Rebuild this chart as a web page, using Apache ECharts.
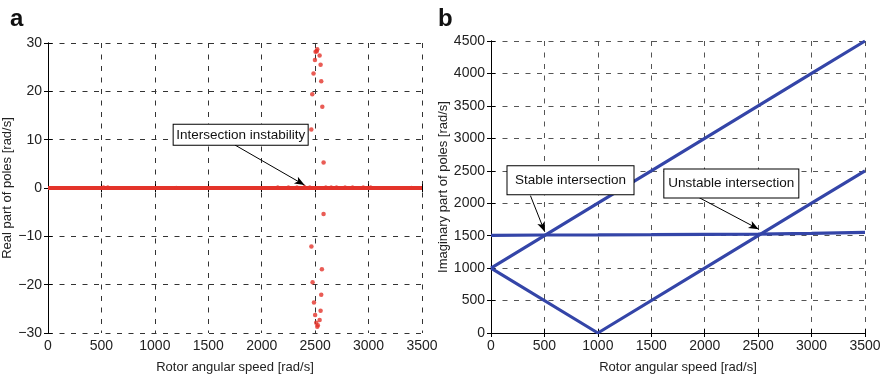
<!DOCTYPE html>
<html><head><meta charset="utf-8">
<script src="https://cdn.jsdelivr.net/npm/echarts@6/dist/echarts.min.js"></script>
<style>html,body{margin:0;padding:0;background:#fff}#c{width:884px;height:379px}</style>
</head><body><div id="c"></div>
<script>
// ---- Panel a data: real part of poles ----
var unstableSpeed = [2520,2515,2504,2542,2498,2551,2485,2557,2473,2567,2464,2579,2579,2465,2563,2476,2557,2489,2551,2500,2542,2510,2525,2520];
var unstableReal  = [28.7,28.3,28.2,27.4,26.5,25.5,23.7,22.1,19.4,16.8,12.1,5.3,-5.4,-12.1,-16.8,-19.5,-22.1,-23.7,-25.4,-26.3,-27.3,-27.9,-28.4,-28.7];
var nearZeroSpeed = [520,560,1200,2150,2250,2330,2400,2450,2600,2650,2700,2780,2850,2950,3020,3400];
var nearZeroReal  = [0.2,0.2,0.1,0.2,0.2,0.2,0.3,0.2,0.2,0.2,0.2,0.2,0.2,0.2,0.2,0.1];
var stableSpeed = [0,3500];
var stableReal  = [0,0];
// ---- Panel b data: imaginary part of poles ----
var speedB      = [0,500,1000,1500,2000,2500,3000,3500];
var branchUp    = [1000,1500,2000,2500,3000,3500,4000,4500];
var branchFlat  = [1505,1510,1512,1515,1520,1525,1535,1550];
var vSpeed      = [0,1000,2000,3000,3500];
var branchV     = [1000,0,1000,2000,2500];
// ---- Axis settings ----
var xTickValues = [0,500,1000,1500,2000,2500,3000,3500];
var realTicks   = [-30,-20,-10,0,10,20,30];
var imagTicks   = [0,500,1000,1500,2000,2500,3000,3500,4000,4500];

function zip(a,b){return a.map(function(v,i){return [v,b[i]];});}
var FONT = 'Liberation Sans';
var nameTxt = {color:'#222', fontFamily:FONT, fontSize:13};
var tickTxt = {color:'#222', fontFamily:FONT, fontSize:14};
function fmt(v){return String(v).replace('-','\u2212');}

function xAx(gi){
  return {type:'value', gridIndex:gi, min:0, max:3500, interval:500,
    name:'Rotor angular speed [rad/s]', nameLocation:'middle', nameGap:28,
    nameTextStyle:nameTxt,
    axisLine:{show:true,lineStyle:{color:'#000',width:1}},
    axisTick:{show:true,inside:true,length:4,lineStyle:{color:'#000'}},
    axisLabel:Object.assign({margin:6, formatter:fmt},tickTxt),
    splitLine:{show:true,lineStyle:{color:gi===0?'#333':'#555',type:[5,6.5],width:1}}};
}
function xTop(gi){
  return {type:'value', gridIndex:gi, position:'top', min:0, max:3500, interval:500,
    axisLine:{show:true,lineStyle:{color:'#000'}},
    axisTick:{show:true,inside:true,length:4,lineStyle:{color:'#000'}},
    axisLabel:{show:false}, splitLine:{show:false}};
}
function yAx(gi,min,max,iv,name,gap){
  return {type:'value', gridIndex:gi, min:min, max:max, interval:iv,
    name:name, nameLocation:'middle', nameGap:gap, nameTextStyle:nameTxt,
    axisLine:{show:true,lineStyle:{color:'#000',width:1}},
    axisTick:{show:true,inside:true,length:4,lineStyle:{color:'#000'}},
    axisLabel:Object.assign({margin:6, formatter:fmt},tickTxt),
    splitLine:{show:true,lineStyle:{color:gi===0?'#333':'#555',type:[5,6.5],width:1}}};
}
function yRight(gi,min,max,iv){
  return {type:'value', gridIndex:gi, position:'right', min:min, max:max, interval:iv,
    axisLine:{show:true,lineStyle:{color:'#000'}},
    axisTick:{show:true,inside:true,length:4,lineStyle:{color:'#000'}},
    axisLabel:{show:false}, splitLine:{show:false}};
}
function box(name,coord,size){
  return {name:name, coord:coord, symbol:'circle', symbolSize:0,
    itemStyle:{color:'rgba(0,0,0,0)'},
    label:{show:true,position:'inside',formatter:name,color:'#111',fontFamily:FONT,fontSize:13.5,
      width:size[0], height:size[1], lineHeight:size[1], align:'center', verticalAlign:'middle',
      padding:0, backgroundColor:'#fff', borderColor:'#000', borderWidth:1}};
}
var arrowStyle = {symbol:['none','arrow'], symbolSize:[6,10], silent:true,
  label:{show:false}, lineStyle:{color:'#000',width:1,type:'solid'}};

var RED = '#e3332a', BLUE = '#3445a8';
var chart = echarts.init(document.getElementById('c'), null, {renderer:'canvas'});
chart.setOption({
  animation:false,
  backgroundColor:'#fff',
  title:[
    {text:'a', left:5, top:2, textStyle:{fontFamily:FONT,fontWeight:'bold',fontSize:24,color:'#111'}},
    {text:'b', left:433, top:2, textStyle:{fontFamily:FONT,fontWeight:'bold',fontSize:24,color:'#111'}}
  ],
  grid:[
    {left:48, right:462, top:43, bottom:44, show:false},
    {left:491, right:19, top:41, bottom:44, show:false}
  ],
  xAxis:[xAx(0), xAx(1), xTop(0), xTop(1)],
  yAxis:[yAx(0,-30,30,10,'Real part of poles [rad/s]',24),
         yAx(1,0,4500,500,'Imaginary part of poles [rad/s]',40),
         yRight(0,-30,30,10), yRight(1,0,4500,500)],
  series:[
    {type:'line', xAxisIndex:0, yAxisIndex:0, data:zip(stableSpeed,stableReal), showSymbol:false,
     lineStyle:{color:RED,width:4}, z:3},
    {type:'scatter', xAxisIndex:0, yAxisIndex:0, data:zip(nearZeroSpeed,nearZeroReal), symbolSize:3.5,
     itemStyle:{color:RED}, z:3},
    {type:'scatter', xAxisIndex:0, yAxisIndex:0, data:zip(unstableSpeed,unstableReal), symbolSize:4.5,
     itemStyle:{color:RED}, z:4,
     markPoint:{silent:true, data:[box('Intersection instability',[1803,11.0],[134,20])]},
     markLine:Object.assign({data:[[{coord:[1749,8.9]},{coord:[2401,0.6]}]]},arrowStyle)},
    {type:'line', xAxisIndex:1, yAxisIndex:1, data:zip(speedB,branchUp), showSymbol:false,
     lineStyle:{color:BLUE,width:3.2}, z:3},
    {type:'line', xAxisIndex:1, yAxisIndex:1, data:zip(vSpeed,branchV), showSymbol:false,
     lineStyle:{color:BLUE,width:3.2}, z:3},
    {type:'line', xAxisIndex:1, yAxisIndex:1, data:zip(speedB,branchFlat), showSymbol:false,
     lineStyle:{color:BLUE,width:3.2}, z:4,
     markPoint:{silent:true, data:[box('Stable intersection',[744,2354],[126,28]),
                                    box('Unstable intersection',[2249,2303],[134,28])]},
     markLine:Object.assign({data:[[{coord:[369,2117]},{coord:[503,1560]}],
                                   [{coord:[1940,2093]},{coord:[2505,1600]}]]},arrowStyle)}
  ]
});
</script></body></html>
